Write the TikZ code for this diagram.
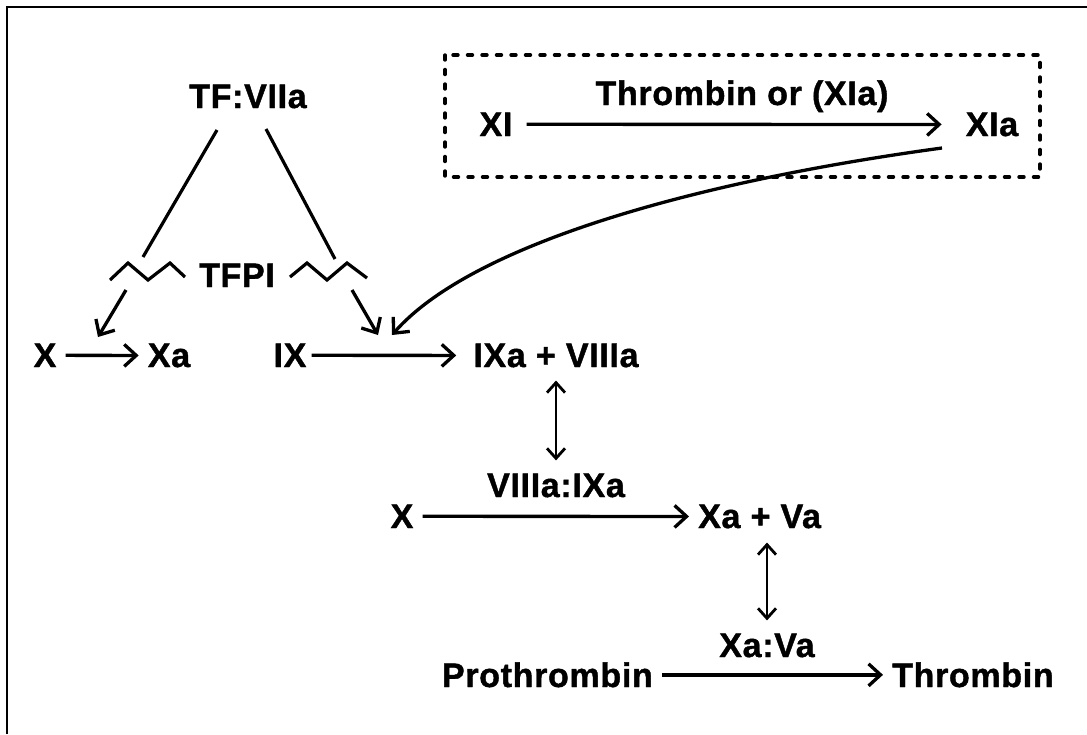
\documentclass[tikz,border=0pt]{standalone}
\usepackage{fontspec}
\setmainfont{Liberation Sans}[LetterSpace=2, BoldFeatures={FakeBold=1.2}]
\usetikzlibrary{arrows.meta}
\begin{document}
\begin{tikzpicture}[x=1pt,y=-1pt,
  lbl/.style={font=\bfseries\fontsize{34}{38}\selectfont, inner xsep=9pt, inner ysep=0pt},
  arr/.style={line width=3.3pt, -{Straight Barb[length=12pt,width=22pt,line width=3.3pt]}},
  dbl/.style={line width=2.8pt, {Straight Barb[length=10pt,width=18pt,line width=2.8pt]}-{Straight Barb[length=10pt,width=18pt,line width=2.8pt]}},
  ln/.style={line width=3.2pt, line join=miter},
  dotbox/.style={line width=3.4pt, line cap=round, dash pattern=on 5pt off 9.5pt}
]
\useasboundingbox (0,0) rectangle (1087,734);
% frame
\draw[line width=2.6pt] (7,734) -- (7,7) -- (1087,7);

% dotted box
\draw[dotbox] (445,55) rectangle (1040,177);

% labels
\node[lbl, anchor=base] (tf) at (248,108) {TF:VIIa};
\node[lbl, anchor=base] (tfpi) at (237,287) {TFPI};
\node[lbl, anchor=base] (x1) at (45,367) {X};
\node[lbl, anchor=base] (xa1) at (169,367) {Xa};
\node[lbl, anchor=base] (ix) at (290,367) {IX};
\node[lbl, anchor=base] (ixa) at (556,367) {IXa + VIIIa};
\node[lbl, anchor=base] (c1) at (556,497) {VIIIa:IXa};
\node[lbl, anchor=base] (x2) at (402,528) {X};
\node[lbl, anchor=base west] (xa2) at (689,528) {Xa + Va};
\node[lbl, anchor=base] (c2) at (767,657) {Xa:Va};
\node[lbl, anchor=base east] (pro) at (662,687) {Prothrombin};
\node[lbl, anchor=base west] (thr) at (883,687) {Thrombin};
\node[lbl, anchor=base] (xi) at (496,136) {XI};
\node[lbl, anchor=base] (xia) at (992,136) {XIa};
\node[lbl, anchor=base] (enz) at (742,105) {Thrombin or (XIa)};

% reaction arrows
\draw[arr] (x1) -- (xa1);
\draw[arr, shorten <=-4pt, shorten >=8pt] (ix) -- (ixa);
\draw[arr] (x2) -- (xa2);
\draw[arr] (pro) -- (thr);
\draw[arr, shorten <=5pt, shorten >=15pt] (xi) -- (xia);

% reversible complex formation
\draw[dbl, shorten <=13pt, shorten >=13pt] (ixa.south) -- (c1.north);
\draw[dbl, shorten <=14pt, shorten >=13pt] (xa2.south -| c2.north) -- (c2.north);

% TF:VIIa branches and TFPI inhibition
\coordinate (tl1) at (217,130);
\coordinate (tl2) at (143,257);
\coordinate (tr1) at (266,129);
\coordinate (tr2) at (335,259);
\draw[ln] (tl1) -- (tl2);
\draw[ln] (tr1) -- (tr2);
\draw[ln] (110,280) -- (128,263) -- (148,280) -- (170,263) -- (185,277);
\draw[ln] (290,277) -- (307,263) -- (327,280) -- (347,263) -- (367,278);
\coordinate (al1) at (126,290);
\coordinate (al2) at (98,337);
\coordinate (ar1) at (352,290);
\coordinate (ar2) at (378,335);
\draw[arr] (al1) -- (al2);
\draw[arr] (ar1) -- (ar2);

% XIa feedback curve
\coordinate (cs) at (942,148);
\coordinate (ce) at (392,335);
\draw[arr] (cs) .. controls (692,182) and (471,245) .. (ce);
\end{tikzpicture}
\end{document}
